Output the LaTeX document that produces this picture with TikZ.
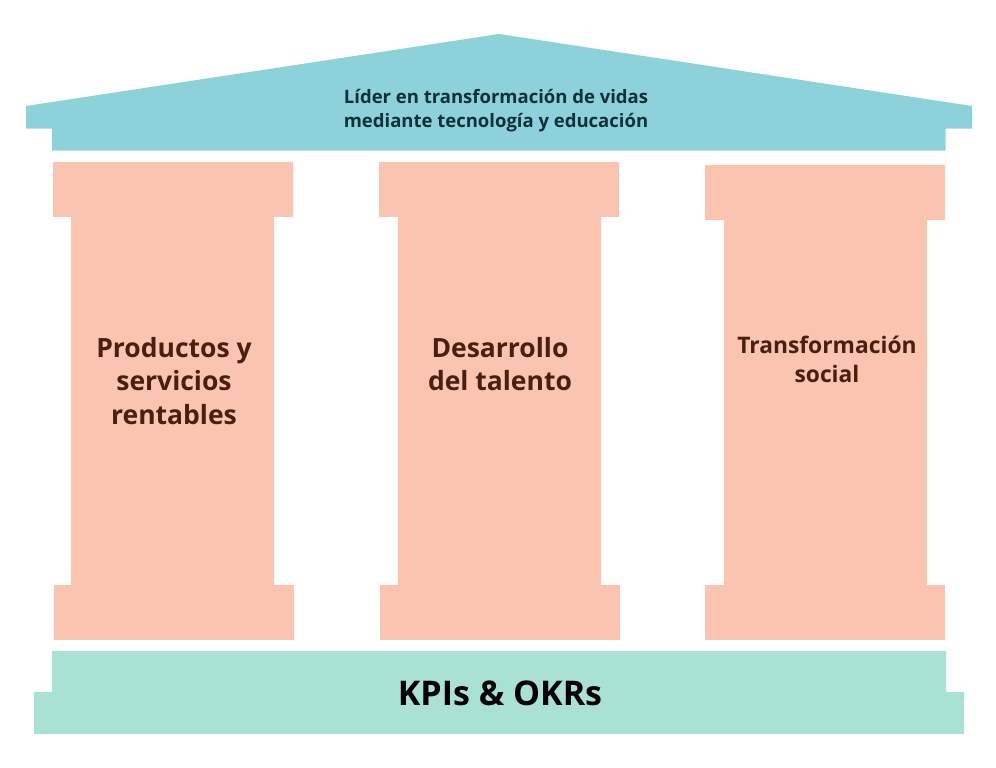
\documentclass[tikz,border=0pt]{standalone}
\usepackage{fontspec}
\setmainfont{Open Sans}
\definecolor{roofc}{HTML}{8DD1DA}
\definecolor{pillc}{HTML}{FBC4B1}
\definecolor{basec}{HTML}{A9E1D5}
\definecolor{rooftxt}{HTML}{0F3138}
\definecolor{pilltxt}{HTML}{4A1F12}
\begin{document}
\begin{tikzpicture}[x=1pt,y=-1pt,
  pillartxt/.style={align=center,text=pilltxt,font=\bfseries\fontsize{26.5}{33.5}\selectfont},
  pillarshape/.style={fill=pillc,draw=none}]
\useasboundingbox (0,0) rectangle (996,768);
% roof
\fill[roofc] (26,106) -- (499,34) -- (972,106) -- (972,128.7) -- (945.7,128.7) -- (945.7,150.7)
  -- (52,150.7) -- (52,128.7) -- (26,128.7) -- cycle;
\node[align=center,text=rooftxt,font=\bfseries\fontsize{18.5}{24}\selectfont] (roof) at (496,110.5)
  {Líder en transformación de vidas\\mediante tecnología y educación};
% pillar 1
\fill[pillarshape] (53,162) rectangle (293,216.5);
\fill[pillarshape] (71,216) rectangle (274,586);
\fill[pillarshape] (54,585) rectangle (294,640);
\node[pillartxt] (p1) at (174,381) {Productos y\\servicios\\rentables};
% pillar 2
\fill[pillarshape] (379,162) rectangle (619,216.7);
\fill[pillarshape] (398,216) rectangle (601,586);
\fill[pillarshape] (380,585) rectangle (620,640);
\node[pillartxt] (p2) at (500,364) {Desarrollo\\del talento};
% pillar 3
\fill[pillarshape] (705,165) rectangle (945,220);
\fill[pillarshape] (724,219) rectangle (927,586);
\fill[pillarshape] (705,585) rectangle (945,640);
\node[align=center,text=pilltxt,font=\bfseries\fontsize{22.8}{29}\selectfont] (p3) at (827,359) {Transformación\\social};
% base
\fill[basec] (52,651) -- (946,651) -- (946,692) -- (964,692) -- (964,734) -- (34,734) -- (34,692) -- (52,692) -- cycle;
\node[text=black,font=\bfseries\fontsize{34}{40}\selectfont] (base) at (500,693) {KPIs \& OKRs};
\end{tikzpicture}
\end{document}
